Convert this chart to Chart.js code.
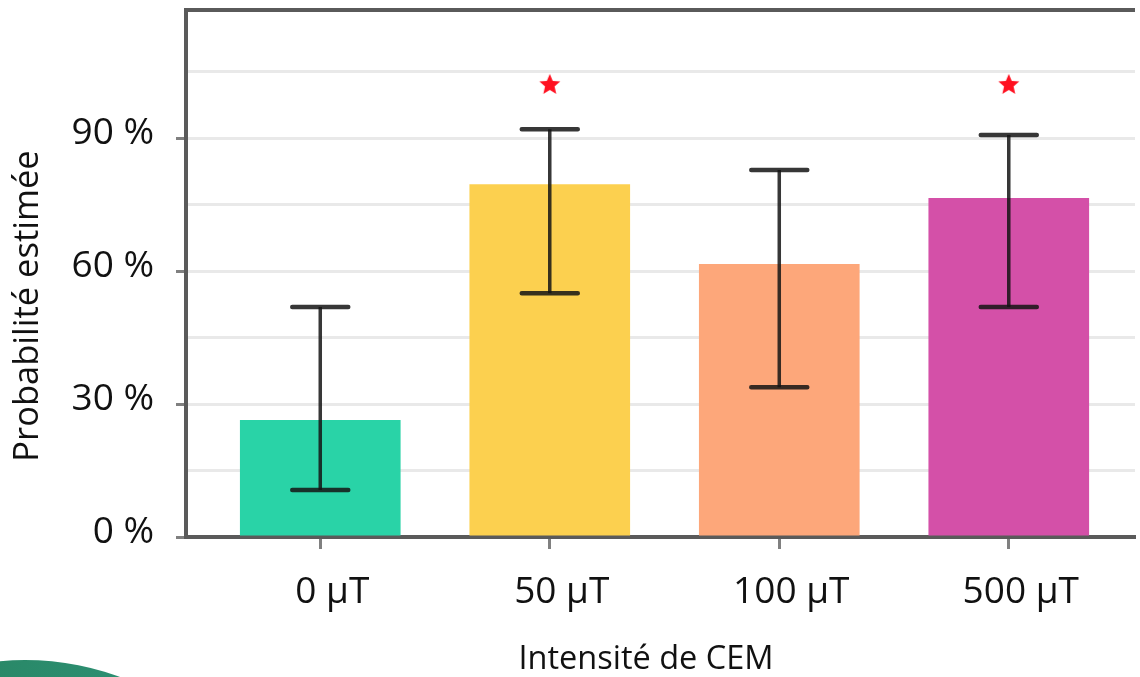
<!DOCTYPE html>
<html>
<head>
<meta charset="utf-8">
<script src="https://cdn.jsdelivr.net/npm/chart.js@4.4.0/dist/chart.umd.min.js"></script>
<style>
  html, body { margin: 0; padding: 0; background: #fff; overflow: hidden; }
  #wrap { position: relative; width: 1140px; height: 677px; }
  #blob {
    position: absolute; left: -249px; top: 660px; width: 548px; height: 548px;
    border-radius: 50%;
    background: linear-gradient(90deg, #287a55 0%, #2a8a6a 50%, #30977f 100%);
  }
</style>
</head>
<body>
<div id="wrap">
  <canvas id="chart"></canvas>
  <div id="blob"></div>
</div>
<script>
// data
const categories = ['0 µT', '50 µT', '100 µT', '500 µT'];
const probabilities = [26.4, 79.6, 61.6, 76.5];
const errLow = [10.6, 55.0, 33.8, 51.9];
const errHigh = [51.9, 92.0, 82.8, 90.7];
const significant = [false, true, false, true];
const starLevel = 102;
const barColors = ['#29d3a7', '#fcd04f', '#fda77a', '#d450a8'];
const yTitle = 'Probabilité estimée';
const xTitle = 'Intensité de CEM';

// small filled star used as point style for the significance marks
function makeStar() {
  const c = document.createElement('canvas');
  c.width = 24; c.height = 24;
  const g = c.getContext('2d');
  g.fillStyle = '#ff1020';
  g.beginPath();
  for (let k = 0; k < 10; k++) {
    const r = k % 2 === 0 ? 11 : 5;
    const a = -Math.PI / 2 + k * Math.PI / 5;
    g.lineTo(12 + r * Math.cos(a), 12 + r * Math.sin(a));
  }
  g.closePath();
  g.fill();
  return c;
}

const errorBars = {
  id: 'errorBars',
  afterDatasetsDraw(chart) {
    const { ctx, scales: { x, y } } = chart;
    ctx.save();
    ctx.strokeStyle = 'rgba(20,20,20,0.85)';
    errLow.forEach((lo, i) => {
      const px = x.getPixelForValue(i);
      const yLo = y.getPixelForValue(lo);
      const yHi = y.getPixelForValue(errHigh[i]);
      ctx.lineWidth = 3.5;
      ctx.lineCap = 'butt';
      ctx.beginPath();
      ctx.moveTo(px, yLo); ctx.lineTo(px, yHi);
      ctx.stroke();
      ctx.lineWidth = 4.5;
      ctx.lineCap = 'round';
      ctx.beginPath();
      ctx.moveTo(px - 28, yLo); ctx.lineTo(px + 28, yLo);
      ctx.moveTo(px - 28, yHi); ctx.lineTo(px + 28, yHi);
      ctx.stroke();
    });
    ctx.restore();
  }
};

const frame = {
  id: 'frame',
  afterDraw(chart) {
    const { ctx, chartArea } = chart;
    ctx.save();
    // top border
    ctx.strokeStyle = '#5a5a5a';
    ctx.lineWidth = 4;
    ctx.beginPath();
    ctx.moveTo(chartArea.left - 2, chartArea.top);
    ctx.lineTo(chartArea.right, chartArea.top);
    ctx.stroke();
    // axis titles
    ctx.fillStyle = '#111';
    ctx.textAlign = 'center';
    ctx.textBaseline = 'middle';
    ctx.font = '32.5px "Open Sans"';
    ctx.fillText(xTitle, 646, 660);
    ctx.translate(28, 306);
    ctx.rotate(-Math.PI / 2);
    ctx.font = '34.5px "Open Sans"';
    ctx.fillText(yTitle, 0, 0);
    ctx.restore();
  }
};

Chart.defaults.font.family = '"Open Sans", sans-serif';
Chart.defaults.color = '#111';

new Chart(document.getElementById('chart'), {
  type: 'bar',
  data: {
    datasets: [
      {
        type: 'scatter',
        data: significant.map((s, i) => s ? { x: i, y: starLevel } : null).filter(Boolean),
        pointStyle: makeStar(),
        order: 0
      },
      {
        data: probabilities.map((v, i) => ({ x: i, y: v })),
        backgroundColor: barColors,
        barPercentage: 0.70,
        categoryPercentage: 1,
        order: 1
      }
    ]
  },
  options: {
    responsive: true,
    maintainAspectRatio: false,
    animation: false,
    layout: { padding: { top: 10, left: 0, right: 0, bottom: 0 } },
    plugins: { legend: { display: false }, tooltip: { enabled: false } },
    scales: {
      x: {
        type: 'linear',
        offset: false,
        min: -0.585,
        max: 3.55,
        afterFit: (s) => { s.height = 140; s.paddingLeft = 0; s.paddingRight = 0; },
        border: { color: '#5a5a5a', width: 4 },
        grid: { offset: false, drawOnChartArea: false, tickLength: 12, tickColor: '#808080', tickWidth: 3 },
        ticks: {
          stepSize: 1,
          includeBounds: false,
          autoSkip: false,
          maxRotation: 0,
          padding: 21,
          labelOffset: 12,
          font: { size: 37 },
          callback: (v) => categories[v] || ''
        }
      },
      y: {
        min: 0,
        max: 118.9,
        afterFit: (s) => { s.width = 186; s.paddingTop = 0; s.paddingBottom = 0; },
        border: { color: '#5a5a5a', width: 4 },
        grid: {
          color: (c) => c.tick && c.tick.value === 0 ? 'transparent' : '#e9e9e9',
          lineWidth: 3,
          tickLength: 10,
          tickWidth: 3,
          tickColor: (c) => c.tick && c.tick.value % 30 === 0 ? '#808080' : 'transparent'
        },
        ticks: {
          stepSize: 15,
          includeBounds: false,
          padding: 22,
          labelOffset: -5,
          font: { size: 37 },
          callback: (v) => v % 30 === 0 ? v + ' %' : ''
        }
      }
    }
  },
  plugins: [errorBars, frame]
});
</script>
</body>
</html>
